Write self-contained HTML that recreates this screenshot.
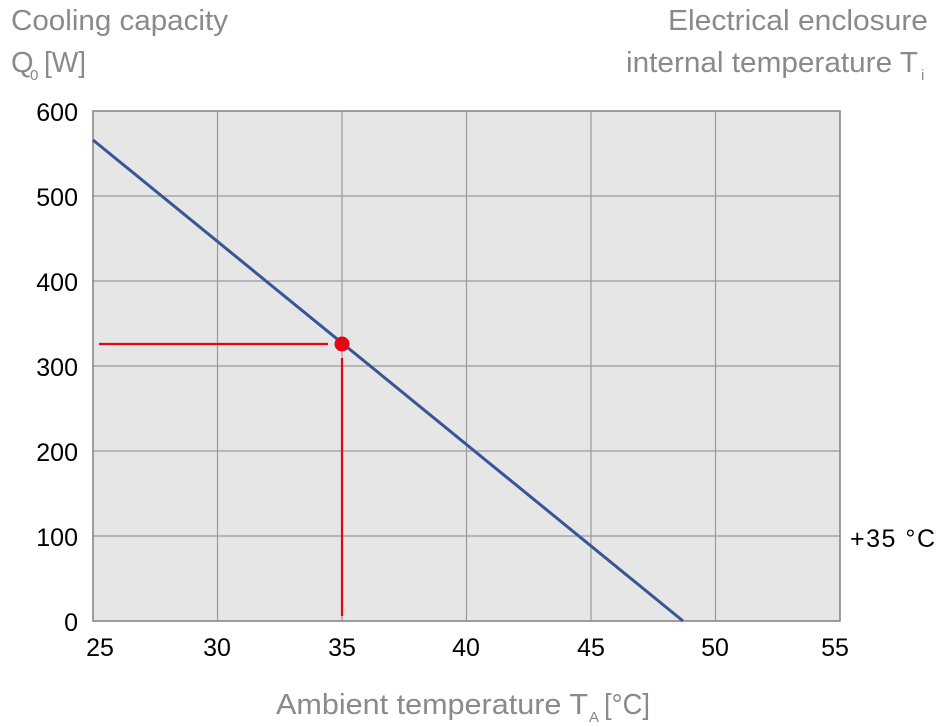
<!DOCTYPE html>
<html><head><style>body{margin:0;background:#fff}svg{display:block}</style></head>
<body>
<svg width="946" height="727" viewBox="0 0 946 727" xmlns="http://www.w3.org/2000/svg" font-family="'Liberation Sans Narrow','Liberation Sans',sans-serif">
<rect x="93" y="111" width="747" height="510" fill="#e6e6e6"/>
<g stroke="#9a9a9a" stroke-width="1.2">
<line x1="217.5" y1="111" x2="217.5" y2="621"/><line x1="342" y1="111" x2="342" y2="621"/>
<line x1="466.5" y1="111" x2="466.5" y2="621"/><line x1="591" y1="111" x2="591" y2="621"/>
<line x1="715.5" y1="111" x2="715.5" y2="621"/>
<line x1="93" y1="196" x2="840" y2="196"/><line x1="93" y1="281" x2="840" y2="281"/>
<line x1="93" y1="366" x2="840" y2="366"/><line x1="93" y1="451" x2="840" y2="451"/>
<line x1="93" y1="536" x2="840" y2="536"/>
</g>
<rect x="93" y="111" width="747" height="510" fill="none" stroke="#808080" stroke-width="1.5"/>
<line x1="93" y1="140" x2="683" y2="621" stroke="#3a5597" stroke-width="3"/>
<line x1="99" y1="344" x2="328" y2="344" stroke="#e30613" stroke-width="2.2"/>
<line x1="342" y1="358" x2="342" y2="616" stroke="#e30613" stroke-width="2.2"/>
<circle cx="342" cy="344" r="7.5" fill="#e30613"/>
<g font-family="'Liberation Sans',sans-serif" font-size="25" fill="#000" text-anchor="end">
<text x="78" y="121">600</text><text x="78" y="206">500</text><text x="78" y="291">400</text>
<text x="78" y="376">300</text><text x="78" y="461">200</text><text x="78" y="546">100</text>
<text x="78" y="631">0</text>
</g>
<g font-family="'Liberation Sans',sans-serif" font-size="25" fill="#000" text-anchor="middle">
<text x="100" y="656">25</text><text x="217" y="656">30</text><text x="342" y="656">35</text>
<text x="466" y="656">40</text><text x="591" y="656">45</text><text x="715" y="656">50</text>
<text x="835" y="656">55</text>
</g>
<text x="850" y="547" font-family="'Liberation Sans',sans-serif" font-size="25" fill="#000" textLength="85" lengthAdjust="spacing">+35 °C</text>
<g fill="#8a8a8a" font-size="29">
<text x="11" y="30" textLength="217" lengthAdjust="spacingAndGlyphs">Cooling capacity</text>
<text x="11" y="72">Q</text><text x="30" y="80" font-size="15">0</text>
<text x="44" y="72" textLength="42" lengthAdjust="spacingAndGlyphs">[W]</text>
<text x="928" y="30" text-anchor="end" textLength="260" lengthAdjust="spacingAndGlyphs">Electrical enclosure</text>
<text x="626" y="72" textLength="292" lengthAdjust="spacingAndGlyphs">internal temperature T</text>
<text x="921" y="80" font-size="15">i</text>
<text x="276" y="714" textLength="312" lengthAdjust="spacingAndGlyphs">Ambient temperature T</text>
<text x="589" y="722" font-size="15">A</text>
<text x="604" y="714" textLength="46" lengthAdjust="spacingAndGlyphs">[°C]</text>
</g>
</svg>
</body></html>
